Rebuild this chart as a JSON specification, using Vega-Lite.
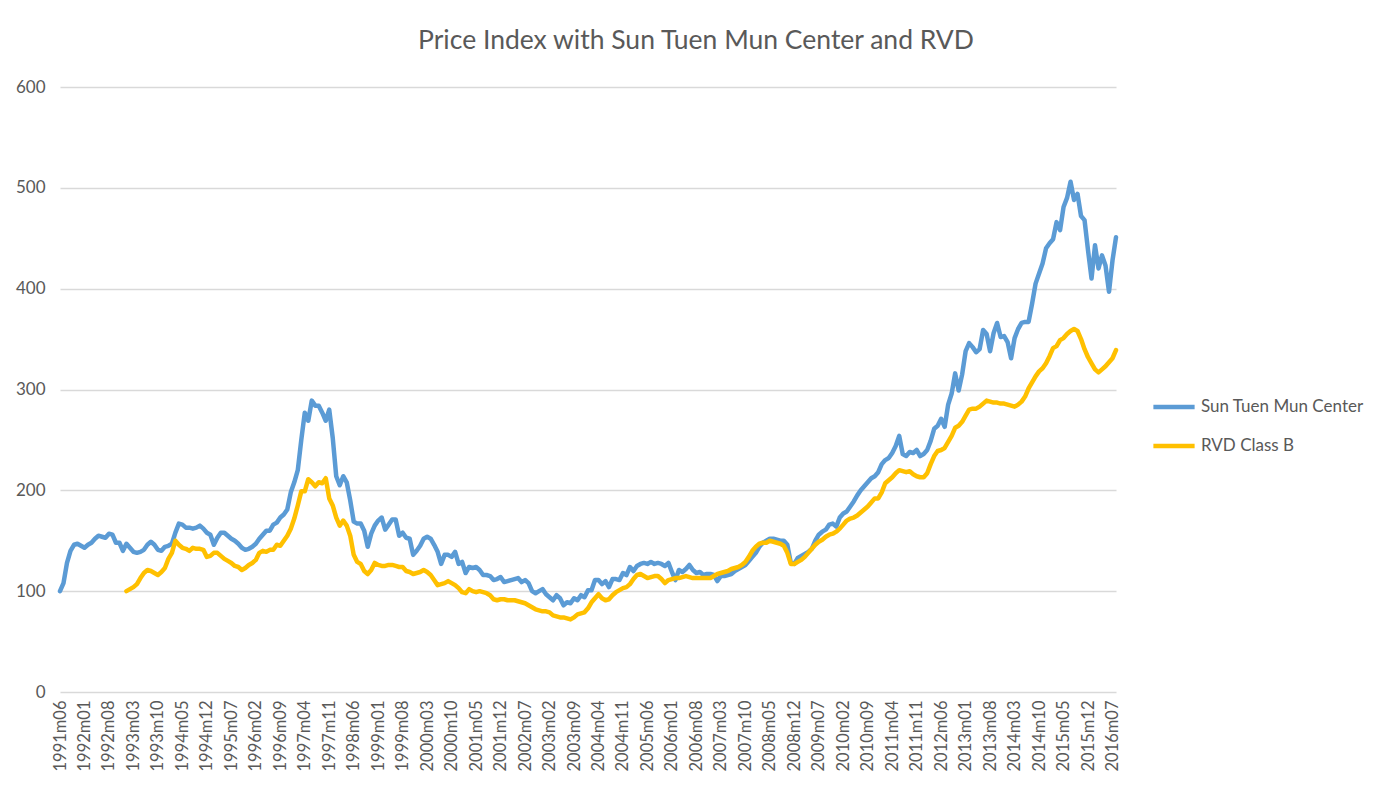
{
"$schema": "https://vega.github.io/schema/vega-lite/v6.json",
"width": 1056, "height": 605,
"autosize": "none",
"padding": {"left": 60, "top": 87, "right": 278, "bottom": 99},
"background": "white",
"title": {"text": "Price Index with Sun Tuen Mun Center and RVD", "font": "Lato", "fontSize": 26.5, "fontWeight": "normal", "color": "#595959", "anchor": "middle", "frame": "group", "dx": 108, "offset": 24},
"data": {"values": [
{"m":"1991m06","a":100},{"m":"1991m07","a":108},{"m":"1991m08","a":128},{"m":"1991m09","a":140},{"m":"1991m10","a":146},{"m":"1991m11","a":147},{"m":"1991m12","a":145},
{"m":"1992m01","a":143},{"m":"1992m02","a":146},{"m":"1992m03","a":148},{"m":"1992m04","a":152},{"m":"1992m05","a":155},{"m":"1992m06","a":154},{"m":"1992m07","a":153},{"m":"1992m08","a":157},{"m":"1992m09","a":156},{"m":"1992m10","a":148},{"m":"1992m11","a":148},{"m":"1992m12","a":140},
{"m":"1993m01","a":147,"b":100},{"m":"1993m02","a":143,"b":102},{"m":"1993m03","a":139,"b":104},{"m":"1993m04","a":138,"b":107},{"m":"1993m05","a":139,"b":113},{"m":"1993m06","a":141,"b":118},{"m":"1993m07","a":146,"b":121},{"m":"1993m08","a":149,"b":120},{"m":"1993m09","a":146,"b":118},{"m":"1993m10","a":141,"b":116},{"m":"1993m11","a":140,"b":119},{"m":"1993m12","a":144,"b":123},
{"m":"1994m01","a":145,"b":132},{"m":"1994m02","a":147,"b":138},{"m":"1994m03","a":158,"b":150},{"m":"1994m04","a":167,"b":146},{"m":"1994m05","a":166,"b":143},{"m":"1994m06","a":163,"b":142},{"m":"1994m07","a":163,"b":140},{"m":"1994m08","a":162,"b":143},{"m":"1994m09","a":163,"b":142},{"m":"1994m10","a":165,"b":142},{"m":"1994m11","a":162,"b":141},{"m":"1994m12","a":158,"b":134},
{"m":"1995m01","a":156,"b":135},{"m":"1995m02","a":146,"b":138},{"m":"1995m03","a":153,"b":138},{"m":"1995m04","a":158,"b":135},{"m":"1995m05","a":158,"b":132},{"m":"1995m06","a":155,"b":130},{"m":"1995m07","a":152,"b":128},{"m":"1995m08","a":150,"b":125},{"m":"1995m09","a":147,"b":124},{"m":"1995m10","a":143,"b":121},{"m":"1995m11","a":141,"b":123},{"m":"1995m12","a":142,"b":126},
{"m":"1996m01","a":144,"b":128},{"m":"1996m02","a":147,"b":131},{"m":"1996m03","a":152,"b":138},{"m":"1996m04","a":156,"b":140},{"m":"1996m05","a":160,"b":139},{"m":"1996m06","a":160,"b":141},{"m":"1996m07","a":166,"b":141},{"m":"1996m08","a":168,"b":146},{"m":"1996m09","a":173,"b":145},{"m":"1996m10","a":176,"b":150},{"m":"1996m11","a":181,"b":155},{"m":"1996m12","a":198,"b":162},
{"m":"1997m01","a":208,"b":172},{"m":"1997m02","a":220,"b":185},{"m":"1997m03","a":250,"b":199},{"m":"1997m04","a":277,"b":199},{"m":"1997m05","a":269,"b":211},{"m":"1997m06","a":289,"b":208},{"m":"1997m07","a":284,"b":204},{"m":"1997m08","a":284,"b":208},{"m":"1997m09","a":277,"b":207},{"m":"1997m10","a":269,"b":212},{"m":"1997m11","a":280,"b":192},{"m":"1997m12","a":252,"b":185},
{"m":"1998m01","a":214,"b":173},{"m":"1998m02","a":205,"b":165},{"m":"1998m03","a":214,"b":170},{"m":"1998m04","a":208,"b":165},{"m":"1998m05","a":190,"b":155},{"m":"1998m06","a":169,"b":136},{"m":"1998m07","a":167,"b":129},{"m":"1998m08","a":167,"b":127},{"m":"1998m09","a":160,"b":120},{"m":"1998m10","a":144,"b":117},{"m":"1998m11","a":157,"b":121},{"m":"1998m12","a":165,"b":128},
{"m":"1999m01","a":170,"b":126},{"m":"1999m02","a":173,"b":125},{"m":"1999m03","a":161,"b":125},{"m":"1999m04","a":166,"b":126},{"m":"1999m05","a":171,"b":126},{"m":"1999m06","a":171,"b":125},{"m":"1999m07","a":155,"b":124},{"m":"1999m08","a":158,"b":124},{"m":"1999m09","a":153,"b":120},{"m":"1999m10","a":152,"b":119},{"m":"1999m11","a":136,"b":117},{"m":"1999m12","a":140,"b":118},
{"m":"2000m01","a":145,"b":119},{"m":"2000m02","a":152,"b":121},{"m":"2000m03","a":154,"b":119},{"m":"2000m04","a":152,"b":116},{"m":"2000m05","a":146,"b":111},{"m":"2000m06","a":139,"b":106},{"m":"2000m07","a":127,"b":107},{"m":"2000m08","a":136,"b":108},{"m":"2000m09","a":136,"b":110},{"m":"2000m10","a":134,"b":108},{"m":"2000m11","a":139,"b":106},{"m":"2000m12","a":127,"b":103},
{"m":"2001m01","a":129,"b":99},{"m":"2001m02","a":118,"b":98},{"m":"2001m03","a":124,"b":102},{"m":"2001m04","a":123,"b":100},{"m":"2001m05","a":124,"b":99},{"m":"2001m06","a":121,"b":100},{"m":"2001m07","a":116,"b":99},{"m":"2001m08","a":116,"b":98},{"m":"2001m09","a":115,"b":96},{"m":"2001m10","a":111,"b":92},{"m":"2001m11","a":112,"b":91},{"m":"2001m12","a":114,"b":92},
{"m":"2002m01","a":109,"b":92},{"m":"2002m02","a":110,"b":91},{"m":"2002m03","a":111,"b":91},{"m":"2002m04","a":112,"b":91},{"m":"2002m05","a":113,"b":90},{"m":"2002m06","a":109,"b":89},{"m":"2002m07","a":111,"b":88},{"m":"2002m08","a":108,"b":86},{"m":"2002m09","a":100,"b":84},{"m":"2002m10","a":98,"b":82},{"m":"2002m11","a":100,"b":81},{"m":"2002m12","a":102,"b":80},
{"m":"2003m01","a":97,"b":80},{"m":"2003m02","a":94,"b":79},{"m":"2003m03","a":91,"b":76},{"m":"2003m04","a":96,"b":75},{"m":"2003m05","a":93,"b":74},{"m":"2003m06","a":86,"b":74},{"m":"2003m07","a":89,"b":73},{"m":"2003m08","a":88,"b":72},{"m":"2003m09","a":93,"b":74},{"m":"2003m10","a":91,"b":77},{"m":"2003m11","a":96,"b":78},{"m":"2003m12","a":94,"b":79},
{"m":"2004m01","a":101,"b":83},{"m":"2004m02","a":101,"b":89},{"m":"2004m03","a":111,"b":93},{"m":"2004m04","a":111,"b":97},{"m":"2004m05","a":107,"b":93},{"m":"2004m06","a":110,"b":91},{"m":"2004m07","a":104,"b":92},{"m":"2004m08","a":112,"b":96},{"m":"2004m09","a":112,"b":99},{"m":"2004m10","a":111,"b":101},{"m":"2004m11","a":118,"b":103},{"m":"2004m12","a":116,"b":104},
{"m":"2005m01","a":124,"b":107},{"m":"2005m02","a":120,"b":112},{"m":"2005m03","a":125,"b":116},{"m":"2005m04","a":127,"b":117},{"m":"2005m05","a":128,"b":115},{"m":"2005m06","a":127,"b":113},{"m":"2005m07","a":129,"b":114},{"m":"2005m08","a":127,"b":115},{"m":"2005m09","a":128,"b":115},{"m":"2005m10","a":127,"b":112},{"m":"2005m11","a":125,"b":108},{"m":"2005m12","a":128,"b":111},
{"m":"2006m01","a":119,"b":112},{"m":"2006m02","a":111,"b":113},{"m":"2006m03","a":121,"b":113},{"m":"2006m04","a":119,"b":114},{"m":"2006m05","a":122,"b":115},{"m":"2006m06","a":126,"b":114},{"m":"2006m07","a":121,"b":113},{"m":"2006m08","a":118,"b":113},{"m":"2006m09","a":119,"b":113},{"m":"2006m10","a":116,"b":113},{"m":"2006m11","a":117,"b":113},{"m":"2006m12","a":117,"b":113},
{"m":"2007m01","a":116,"b":115},{"m":"2007m02","a":110,"b":117},{"m":"2007m03","a":115,"b":118},{"m":"2007m04","a":115,"b":119},{"m":"2007m05","a":116,"b":120},{"m":"2007m06","a":117,"b":122},{"m":"2007m07","a":120,"b":123},{"m":"2007m08","a":122,"b":124},{"m":"2007m09","a":124,"b":126},{"m":"2007m10","a":126,"b":129},{"m":"2007m11","a":130,"b":134},{"m":"2007m12","a":134,"b":140},
{"m":"2008m01","a":138,"b":144},{"m":"2008m02","a":144,"b":147},{"m":"2008m03","a":148,"b":148},{"m":"2008m04","a":150,"b":148},{"m":"2008m05","a":152,"b":150},{"m":"2008m06","a":152,"b":149},{"m":"2008m07","a":151,"b":148},{"m":"2008m08","a":150,"b":147},{"m":"2008m09","a":150,"b":145},{"m":"2008m10","a":146,"b":138},{"m":"2008m11","a":128,"b":127},{"m":"2008m12","a":127,"b":127},
{"m":"2009m01","a":133,"b":129},{"m":"2009m02","a":135,"b":131},{"m":"2009m03","a":137,"b":134},{"m":"2009m04","a":139,"b":138},{"m":"2009m05","a":142,"b":142},{"m":"2009m06","a":150,"b":146},{"m":"2009m07","a":156,"b":149},{"m":"2009m08","a":159,"b":151},{"m":"2009m09","a":161,"b":154},{"m":"2009m10","a":166,"b":156},{"m":"2009m11","a":167,"b":157},{"m":"2009m12","a":164,"b":159},
{"m":"2010m01","a":173,"b":162},{"m":"2010m02","a":177,"b":166},{"m":"2010m03","a":179,"b":170},{"m":"2010m04","a":184,"b":172},{"m":"2010m05","a":189,"b":173},{"m":"2010m06","a":195,"b":175},{"m":"2010m07","a":200,"b":178},{"m":"2010m08","a":204,"b":181},{"m":"2010m09","a":208,"b":184},{"m":"2010m10","a":212,"b":188},{"m":"2010m11","a":214,"b":192},{"m":"2010m12","a":218,"b":192},
{"m":"2011m01","a":226,"b":198},{"m":"2011m02","a":230,"b":207},{"m":"2011m03","a":232,"b":210},{"m":"2011m04","a":237,"b":213},{"m":"2011m05","a":244,"b":217},{"m":"2011m06","a":254,"b":220},{"m":"2011m07","a":236,"b":219},{"m":"2011m08","a":234,"b":218},{"m":"2011m09","a":238,"b":219},{"m":"2011m10","a":237,"b":216},{"m":"2011m11","a":240,"b":214},{"m":"2011m12","a":234,"b":213},
{"m":"2012m01","a":236,"b":213},{"m":"2012m02","a":240,"b":217},{"m":"2012m03","a":249,"b":226},{"m":"2012m04","a":261,"b":234},{"m":"2012m05","a":264,"b":239},{"m":"2012m06","a":271,"b":240},{"m":"2012m07","a":263,"b":242},{"m":"2012m08","a":285,"b":248},{"m":"2012m09","a":296,"b":254},{"m":"2012m10","a":316,"b":262},{"m":"2012m11","a":299,"b":264},{"m":"2012m12","a":315,"b":268},
{"m":"2013m01","a":338,"b":274},{"m":"2013m02","a":346,"b":280},{"m":"2013m03","a":342,"b":281},{"m":"2013m04","a":337,"b":281},{"m":"2013m05","a":340,"b":283},{"m":"2013m06","a":359,"b":286},{"m":"2013m07","a":355,"b":289},{"m":"2013m08","a":338,"b":288},{"m":"2013m09","a":356,"b":287},{"m":"2013m10","a":366,"b":287},{"m":"2013m11","a":352,"b":286},{"m":"2013m12","a":353,"b":286},
{"m":"2014m01","a":347,"b":285},{"m":"2014m02","a":331,"b":284},{"m":"2014m03","a":351,"b":283},{"m":"2014m04","a":360,"b":285},{"m":"2014m05","a":366,"b":288},{"m":"2014m06","a":367,"b":293},{"m":"2014m07","a":367,"b":301},{"m":"2014m08","a":385,"b":307},{"m":"2014m09","a":405,"b":313},{"m":"2014m10","a":415,"b":318},{"m":"2014m11","a":425,"b":321},{"m":"2014m12","a":440,"b":326},
{"m":"2015m01","a":445,"b":333},{"m":"2015m02","a":449,"b":341},{"m":"2015m03","a":466,"b":343},{"m":"2015m04","a":458,"b":349},{"m":"2015m05","a":481,"b":351},{"m":"2015m06","a":490,"b":355},{"m":"2015m07","a":506,"b":358},{"m":"2015m08","a":488,"b":360},{"m":"2015m09","a":494,"b":358},{"m":"2015m10","a":472,"b":350},{"m":"2015m11","a":468,"b":340},{"m":"2015m12","a":438,"b":332},
{"m":"2016m01","a":410,"b":326},{"m":"2016m02","a":443,"b":320},{"m":"2016m03","a":420,"b":317},{"m":"2016m04","a":433,"b":320},{"m":"2016m05","a":423,"b":323},{"m":"2016m06","a":397,"b":327},{"m":"2016m07","a":428,"b":331},{"m":"2016m08","a":451,"b":339}
]},
"transform": [{"fold": ["a", "b"], "as": ["series", "value"]}],
"mark": {"type": "line", "strokeWidth": 4.5, "strokeCap": "round", "strokeJoin": "round"},
"encoding": {
  "x": {"field": "m", "type": "ordinal", "scale": {"type": "point", "padding": 0},
    "axis": {"title": null, "values": ["1991m06","1992m01","1992m08","1993m03","1993m10","1994m05","1994m12","1995m07","1996m02","1996m09","1997m04","1997m11","1998m06","1999m01","1999m08","2000m03","2000m10","2001m05","2001m12","2002m07","2003m02","2003m09","2004m04","2004m11","2005m06","2006m01","2006m08","2007m03","2007m10","2008m05","2008m12","2009m07","2010m02","2010m09","2011m04","2011m11","2012m06","2013m01","2013m08","2014m03","2014m10","2015m05","2015m12","2016m07"],
      "labelAngle": -90, "labelFont": "Lato", "labelFontSize": 16.5, "labelColor": "#595959", "ticks": false, "domain": false, "grid": false, "labelPadding": 8, "labelOverlap": false}},
  "y": {"field": "value", "type": "quantitative", "scale": {"domain": [0, 600]},
    "axis": {"title": null, "values": [0, 100, 200, 300, 400, 500, 600], "ticks": false, "domain": false, "grid": true, "gridColor": "#D9D9D9", "gridWidth": 1.3, "labelFont": "Lato", "labelFontSize": 17, "labelColor": "#595959", "labelPadding": 15}},
  "color": {"field": "series", "type": "nominal", "scale": {"domain": ["a", "b"], "range": ["#5B9BD5", "#FFC000"]},
    "legend": {"title": null, "orient": "none", "legendX": 1091, "legendY": 297, "symbolType": "stroke", "symbolSize": 1700, "symbolStrokeWidth": 4.5, "labelFont": "Lato", "labelFontSize": 17, "labelColor": "#595959", "labelOffset": 4, "labelLimit": 400, "rowPadding": 7,
      "labelExpr": "datum.label == 'a' ? 'Sun Tuen Mun Center' : 'RVD Class B'"}}
},
"config": {"view": {"stroke": null}, "font": "Lato"}
}
